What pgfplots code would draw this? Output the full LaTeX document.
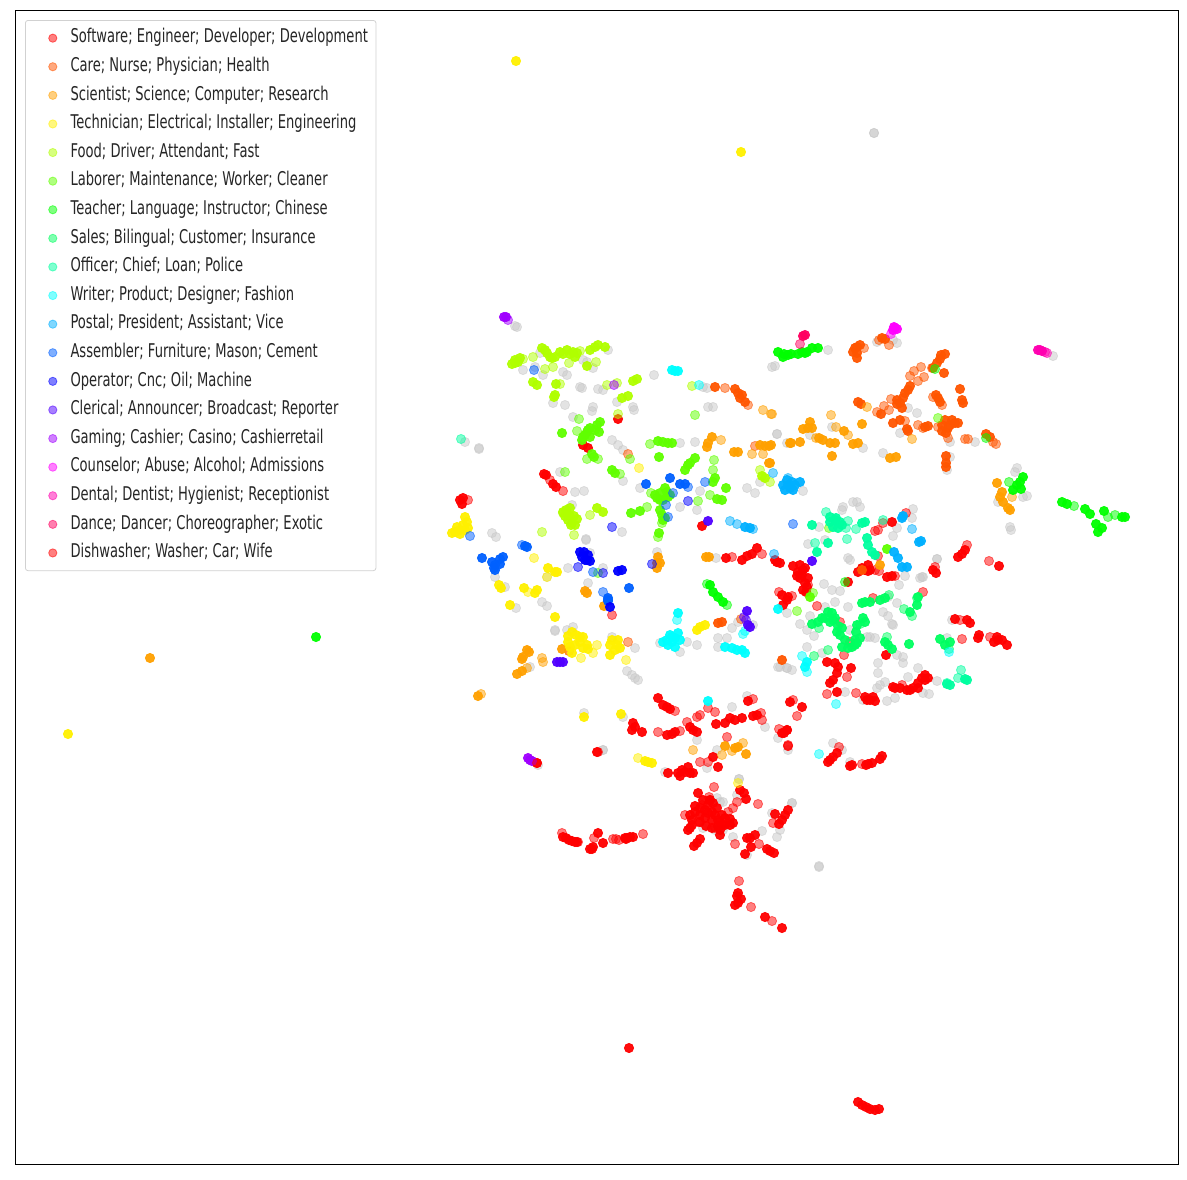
\documentclass[border=0pt]{standalone}
\usepackage{pgfplots}
\pgfplotsset{compat=1.18}
\usepackage{fontspec}
\newfontfamily\legfont[FakeStretch=0.692]{DejaVu Sans}
\definecolor{c00}{HTML}{FF0000}
\definecolor{c01}{HTML}{FF5500}
\definecolor{c02}{HTML}{FFA000}
\definecolor{c03}{HTML}{FFF000}
\definecolor{c04}{HTML}{B0FF00}
\definecolor{c05}{HTML}{60FF00}
\definecolor{c06}{HTML}{00FF00}
\definecolor{c07}{HTML}{00FF60}
\definecolor{c08}{HTML}{00FFA0}
\definecolor{c09}{HTML}{00FFFF}
\definecolor{c10}{HTML}{00B0FF}
\definecolor{c11}{HTML}{0060FF}
\definecolor{c12}{HTML}{0000FF}
\definecolor{c13}{HTML}{5000FF}
\definecolor{c14}{HTML}{A000FF}
\definecolor{c15}{HTML}{FF00FF}
\definecolor{c16}{HTML}{FF00B0}
\definecolor{c17}{HTML}{FF0060}
\definecolor{gr}{HTML}{C8C8C8}
\pgfplotsset{
  solid dot/.style={only marks,mark=*,mark size=3.45pt,forget plot,
    mark options={draw=#1,fill=#1,line width=0.6pt,draw opacity=0.95,fill opacity=0.95}},
  light dot/.style={only marks,mark=*,mark size=3.45pt,
    mark options={draw=#1,fill=#1,line width=0.6pt,draw opacity=0.55,fill opacity=0.5}},
}
\begin{document}
\begin{tikzpicture}
\path[use as bounding box] (0pt,0pt) rectangle (890.25pt,884.25pt);
\begin{axis}[
  at={(11.25pt,11.25pt)},anchor=south west,
  scale only axis,width=872.25pt,height=865.5pt,
  xmin=15,xmax=1178,ymin=10,ymax=1164,y dir=reverse,
  xtick=\empty,ytick=\empty,
  axis line style={black,line width=0.6pt},
  legend cell align=left,
  legend image code/.code={\path (0pt,0pt) (27.25pt,0pt);\draw[#1,mark size=3.1pt] plot coordinates {(14.25pt,0pt)};},
  legend style={at={(axis cs:25,20)},anchor=north west,draw=black!18,rounded corners=2pt,
    line width=0.6pt,font=\legfont\fontsize{14.2}{16}\selectfont,text=black!85,
    inner xsep=6pt,inner ysep=6.3pt,row sep=7.45pt,
    nodes={inner sep=0pt,text height=10.5pt,text depth=3.5pt}},
]
% noise topic
\addplot[light dot=gr,forget plot] coordinates {
(517,327)(515,326)(608,350)(540,353)(523,370)(535,367)(543,375)(563,372)(567,375)(583,360)(587,362)(593,368)(580,387)(582,388)(598,389)(603,390)(654,375)(553,403)(565,405)(593,407)(592,411)(633,407)(634,410)(617,402)(573,417)(708,407)(713,407)(703,387)(707,388)
(465,442)(479,448)(479,449)(612,440)(618,445)(623,450)(680,443)(695,442)(777,434)(623,481)(560,472)(575,492)(584,491)(640,488)(680,507)(697,510)(700,491)(747,488)(755,493)(760,482)(572,505)(492,533)(496,537)(586,539)(586,540)(622,532)(590,553)(568,568)(603,568)(588,583)(547,577)(495,577)(505,587)(716,558)(657,552)
(542,602)(547,606)(516,608)(555,630)(555,631)(573,627)(567,630)(612,637)(635,648)(627,671)(632,675)(635,678)(638,680)(530,667)(687,642)(697,645)(680,652)(660,643)(718,638)(727,638)(718,647)(732,628)(738,622)(753,625)(778,667)(787,668)(732,707)(747,696)(584,713)(623,717)(603,750)(765,727)(697,740)(717,750)(707,768)(665,772)(538,765)(739,779)(723,802)
(848,558)(850,560)(824,584)(832,590)(840,591)(835,602)(848,607)(825,607)(810,616)(800,624)(807,630)(814,636)(883,612)(888,616)(892,624)(893,625)(870,637)(875,638)(867,637)(850,630)(897,603)(899,585)(888,597)(920,578)(923,577)(937,559)(807,647)(822,653)(878,663)(903,663)(903,657)(897,655)(878,673)(885,682)(880,685)(877,688)(908,677)(918,668)(937,681)(923,693)(929,694)(887,701)(895,698)(863,700)(845,692)(780,667)(787,668)(792,670)(787,613)(833,743)(842,750)(850,762)(792,803)(778,738)(788,750)(947,638)(952,620)
(828,350)(775,366)(772,367)(877,342)(897,343)(893,340)(950,457)(947,470)(908,408)(917,413)(900,433)(950,442)(975,442)(883,453)(863,448)(777,434)(832,427)(810,435)(787,443)(1053,356)(1017,468)(1015,472)(1027,496)(1023,497)(998,502)(1011,530)(1010,527)(857,502)(853,502)(843,507)(842,510)(860,507)(913,509)(897,528)(893,536)(912,518)(819,527)(808,544)(825,540)(803,491)(937,559)(922,577)(905,576)
(819,867)(819,866)(792,803)(777,837)(762,831)(733,837)(723,830)(717,798)(720,802)(703,828)(739,779)(737,795)(780,830)(772,813)(747,855)(874,133)(874,133)(603,750)(710,800)(730,825)(715,830)
};
% Software
\addplot[solid dot=c00] coordinates {
(563,837)(566,838)(569,840)(572,841)(575,842)(577,842)(598,833)(603,843)(592,849)(590,849)(593,847)(625,838)(627,838)(630,837)(633,837)(626,839)
(698,793)(695,806)(700,808)(705,810)(708,813)(713,803)(717,808)(722,815)(725,818)(730,819)(700,815)(692,820)(705,818)(712,820)(718,820)(690,828)(692,825)(688,830)(694,846)(697,843)(700,839)(720,830)(720,835)(718,826)(722,825)
(703,800)(708,805)(712,812)(695,812)(700,822)(706,826)(715,815)(725,825)(730,825)(733,823)(690,815)(712,828)(720,822)(710,800)
(740,790)(744,793)(746,799)(775,814)(788,810)(785,815)(782,820)(779,824)(750,838)(755,835)(747,838)(751,847)(745,854)(767,849)(770,851)(774,853)
(738,893)(737,896)(741,899)(738,903)(735,905)(765,917)(782,928)(597,752)(668,773)(678,773)(682,770)(685,772)(688,767)(690,773)(693,773)(680,776)(713,757)(718,767)
(828,762)(833,757)(837,753)(830,760)(852,765)(850,766)(868,764)(872,763)(866,765)(880,759)(882,756)
(658,698)(663,705)(667,707)(670,709)(633,723)(632,730)(635,727)(642,732)(667,735)(672,734)(675,732)(690,727)(693,730)(697,732)(716,724)(725,723)(730,718)(735,720)(742,718)(753,716)(757,715)(748,701)(782,733)(787,730)(537,763)
(775,560)(777,562)(793,566)(798,572)(803,570)(805,568)(802,575)(805,583)(807,587)(806,592)(797,576)(865,570)(862,568)(870,570)(868,571)(887,577)(892,576)(933,570)(936,573)(848,582)(782,595)(787,600)(783,605)(788,597)
(800,565)(800,578)(808,578)(803,590)(868,565)(858,572)
(886,655)(827,662)(835,663)(838,667)(851,668)(837,673)(833,680)(830,683)(837,692)(870,700)(875,701)(867,700)(895,688)(893,687)(907,690)(913,688)(918,683)(922,678)(925,675)(928,678)(955,619)(967,620)(970,623)(979,635)(978,638)(997,637)(994,642)(1002,640)(1007,645)(998,640)(790,702)(802,707)(784,733)(787,730)
(925,680)(918,688)(910,690)(900,688)(865,697)(873,697)
(962,554)(965,550)(958,557)(999,566)(892,522)(544,474)(546,475)(556,487)(553,484)(460,500)(462,504)(463,498)(618,419)(583,445)(588,448)(702,526)(726,558)(742,560)(747,556)(752,554)(757,548)(777,562)(780,563)
(629,1048)(858,1102)(862,1105)(866,1107)(870,1109)(875,1110)(879,1109)
};
\addplot[light dot=c00] coordinates {
(562,833)(578,842)(594,838)(613,839)(619,840)(616,839)(643,834)(709,797)(714,787)(737,802)(758,804)(773,823)(735,844)(759,844)(739,881)(751,907)(772,921)(700,762)(708,762)(788,746)(839,747)(862,764)(675,711)(708,708)(715,712)(753,699)(658,732)(680,731)(687,722)(697,717)(700,715)(761,713)(762,720)(788,745)(727,737)(612,615)
(808,585)(875,570)(879,571)(878,556)(895,576)(935,567)(923,592)(873,598)(779,592)(792,596)(817,606)(840,622)(850,642)(844,655)(847,677)(827,694)(856,693)(902,685)(960,620)(962,639)(990,637)(793,700)(797,716)(779,729)(788,746)(967,545)(989,561)(906,513)(883,523)(878,530)(875,531)(550,480)(563,491)(468,500)(732,557)(762,554)(569,651)(710,800)(702,805)(685,815)(728,812)(733,808)(698,822)(715,828)
};
\addlegendentry{Software; Engineer; Developer; Development}
% Care
\addplot[solid dot=c01] coordinates {
(857,347)(860,345)(855,348)(857,358)(882,338)(885,339)(945,354)(940,359)(937,363)(933,368)(944,373)(910,386)(905,393)(903,398)(900,403)(897,404)(960,389)(963,403)(962,400)(938,398)(940,402)(936,395)(858,402)(861,404)(881,414)(893,423)(900,420)(907,429)(908,431)(928,426)(925,427)(942,431)(948,428)(952,420)(955,423)(958,423)(946,433)(986,434)(990,437)(946,456)(946,463)(946,467)(715,387)(735,389)(738,393)(740,398)(745,402)(742,395)(718,623)(722,622)(782,660)(862,570)
(897,400)(902,408)(908,390)(942,425)(945,420)(950,425)(941,355)(853,352)(857,353)
};
\addplot[light dot=c01] coordinates {
(864,348)(889,345)(879,340)(932,368)(921,367)(914,371)(910,376)(918,381)(924,377)(933,397)(942,405)(891,399)(884,406)(889,410)(877,412)(905,421)(918,425)(923,428)(938,427)(948,438)(965,439)(968,439)(993,442)(996,444)(725,388)(628,454)(755,446)(741,619)(628,642)(748,405)
};
\addlegendentry{Care; Nurse; Physician; Health}
% Scientist
\addplot[solid dot=c02] coordinates {
(810,422)(808,428)(803,429)(812,428)(844,431)(862,424)(800,442)(791,443)(819,438)(823,440)(830,443)(835,443)(853,444)(858,443)(832,456)(890,458)(896,457)(771,445)(770,463)(997,483)(1000,497)(1002,492)(1003,502)(1008,508)(1010,510)(708,443)(712,437)(707,447)(738,452)(734,452)(760,445)(765,446)(769,446)(769,463)(790,443)(658,557)(657,563)(660,563)(657,568)(706,557)(709,557)(585,591)(587,593)(604,606)(562,649)(527,650)(529,652)(522,659)(523,657)(522,671)(517,674)(478,696)(725,746)(735,748)(738,747)(746,754)(880,565)(150,658)
};
\addplot[light dot=c02] coordinates {
(831,415)(836,427)(848,435)(816,438)(912,439)(867,407)(772,414)(1012,497)(721,440)(752,454)(763,454)(763,410)(771,414)(542,658)(543,662)(527,668)(481,694)(732,751)(743,743)(693,750)(722,755)(569,651)
};
\addlegendentry{Scientist; Science; Computer; Research}
% Technician
\addplot[solid dot=c03] coordinates {
(516,61)(741,152)(68,734)(465,517)(467,522)(460,530)(455,532)(465,530)(468,528)(463,525)(460,534)(452,533)(457,527)(499,585)(501,588)(524,588)(535,593)(537,590)(510,605)(555,617)(548,568)(555,572)(557,572)(572,632)(568,642)(570,647)(580,637)(583,637)(583,648)(588,649)(572,653)(576,635)(580,642)(575,645)(568,636)(587,645)(610,645)(618,640)(617,645)(620,648)(610,655)(612,640)(615,650)(584,717)(621,714)(645,761)(648,762)(652,763)(697,630)(700,627)(705,625)
};
\addplot[light dot=c03] coordinates {
(534,558)(528,592)(547,577)(581,658)(593,653)(597,645)(626,660)(638,758)(738,783)(639,468)
};
\addlegendentry{Technician; Electrical; Installer; Engineering}
% Food
\addplot[solid dot=c04] coordinates {
(515,363)(518,362)(512,364)(515,360)(520,358)(542,348)(547,353)(552,358)(555,357)(545,350)(550,357)(560,352)(567,350)(573,352)(577,353)(563,354)(570,354)(575,357)(590,350)(598,345)(605,347)(595,347)(587,366)(533,382)(537,385)(556,384)(554,397)(555,395)(633,381)(637,379)(622,398)(628,396)(762,476)(765,478)(567,513)(568,520)(572,523)(577,519)(570,508)(565,516)(570,516)(574,516)(571,525)(566,510)(575,525)(563,512)(597,508)(603,512)
};
\addplot[light dot=c04] coordinates {
(523,359)(533,357)(580,351)(569,363)(596,362)(545,369)(553,367)(560,384)(607,385)(617,383)(692,386)(618,414)(760,470)(770,482)(542,532)(574,535)(563,513)(590,515)
};
\addlegendentry{Food; Driver; Attendant; Fast}
% Laborer
\addplot[solid dot=c05] coordinates {
(562,433)(597,425)(599,432)(587,432)(583,437)(582,440)(588,430)(585,435)(590,428)(595,430)(600,422)(590,437)(592,454)(594,457)(658,441)(663,442)(672,443)(668,443)(659,457)(612,470)(615,473)(685,470)(690,463)(695,458)(688,465)(715,478)(713,482)(726,488)(717,499)(722,500)(660,493)(667,492)(657,498)(663,500)(655,495)(660,500)(668,497)(665,488)(670,495)(631,513)(640,511)(662,515)(660,510)(665,518)(663,520)(659,533)(810,597)(887,549)
};
\addplot[light dot=c05] coordinates {
(579,419)(577,431)(587,459)(598,459)(565,472)(650,444)(620,474)(630,459)(695,415)(714,460)(713,470)(710,495)(698,501)(651,493)(647,507)(662,523)(658,537)(598,573)(829,528)(813,593)(797,611)(938,418)
};
\addlegendentry{Laborer; Maintenance; Worker; Cleaner}
% Teacher
\addplot[solid dot=c06] coordinates {
(778,352)(783,357)(788,355)(784,354)(791,354)(798,354)(802,352)(805,353)(807,352)(812,348)(818,348)(1023,477)(1020,482)(1017,485)(1013,490)(1021,489)(1062,502)(1067,504)(1085,509)(1090,514)(1104,511)(1122,517)(1125,517)(1096,524)(1102,528)(1098,532)(710,585)(713,592)(718,597)(723,602)(316,637)
};
\addplot[light dot=c06] coordinates {
(935,369)(1009,482)(1074,506)(1108,517)(1115,515)(707,584)(727,605)(986,438)(845,582)
};
\addlegendentry{Teacher; Language; Instructor; Chinese}
% Sales
\addplot[solid dot=c07] coordinates {
(865,602)(862,603)(870,602)(880,600)(885,598)(917,605)(910,612)(812,624)(818,622)(825,618)(832,613)(835,618)(830,622)(837,632)(842,628)(822,618)(828,612)(838,626)(833,620)(840,635)(845,640)(855,640)(860,638)(857,625)(855,645)(848,648)(863,618)(865,622)(856,632)(857,643)(852,647)(842,647)(885,642)(888,645)(892,649)(909,644)(940,639)(945,645)(950,642)(918,597)
};
\addplot[light dot=c07] coordinates {
(889,595)(917,598)(904,609)(912,616)(819,628)(860,624)(887,637)(949,649)(828,650)(814,656)
};
\addlegendentry{Sales; Bilingual; Customer; Insurance}
% Officer
\addplot[solid dot=c08] coordinates {
(830,517)(835,520)(840,522)(833,527)(836,518)(842,525)(830,522)(838,528)(812,525)(865,522)(862,523)(828,543)(817,552)(867,538)(868,545)(872,552)(875,555)(950,685)(947,684)(965,679)(967,680)
};
\addplot[light dot=c08] coordinates {
(826,512)(848,521)(846,528)(856,529)(883,520)(815,543)(847,539)(461,439)(947,683)(961,670)(958,678)
};
\addlegendentry{Officer; Chief; Loan; Police}
% Writer
\addplot[solid dot=c09] coordinates {
(675,371)(672,370)(678,371)(678,613)(663,642)(670,635)(678,633)(667,640)(672,642)(675,647)(675,638)(668,645)(672,637)(680,640)(725,647)(732,648)(737,650)(742,650)(745,653)(778,609)(708,701)(807,662)(805,667)
};
\addplot[light dot=c09] coordinates {
(699,385)(677,620)(745,631)(743,634)(802,656)(807,672)(836,704)(819,754)(949,652)
};
\addlegendentry{Writer; Product; Designer; Fashion}
% Postal
\addplot[solid dot=c10] coordinates {
(792,482)(793,490)(800,482)(783,485)(790,488)(788,485)(795,485)(785,490)(787,480)(902,518)(903,516)(921,541)(919,542)(894,552)(898,558)(902,567)(907,567)(745,527)(750,528)
};
\addplot[light dot=c10] coordinates {
(788,478)(773,473)(912,529)(730,521)(737,524)(753,529)(774,554)
};
\addlegendentry{Postal; President; Assistant; Vice}
% Assembler
\addplot[solid dot=c11] coordinates {
(482,558)(492,562)(503,557)(500,559)(494,568)(495,570)(500,564)(495,565)(527,547)(525,546)(646,484)(670,478)(680,484)(685,484)(629,588)(608,598)(608,601)(608,600)
};
\addplot[light dot=c11] coordinates {
(522,545)(470,536)(534,370)(673,493)(688,487)(705,482)(666,505)(668,517)(593,572)(603,592)(793,524)
};
\addlegendentry{Assembler; Furniture; Mason; Cement}
% Operator
\addplot[solid dot=c12] coordinates {
(580,552)(582,557)(587,560)(590,561)(585,560)(588,555)(584,552)(618,571)(622,570)(610,607)
};
\addplot[light dot=c12] coordinates {
(578,567)(603,573)(688,501)(652,564)(612,527)
};
\addlegendentry{Operator; Cnc; Oil; Machine}
% Clerical
\addplot[solid dot=c13] coordinates {
(708,521)(560,662)(563,662)(557,662)(747,611)(750,627)(748,625)(812,561)
};
\addplot[light dot=c13] coordinates {
(746,620)(744,617)
};
\addlegendentry{Clerical; Announcer; Broadcast; Reporter}
% Gaming
\addplot[solid dot=c14] coordinates {
(504,317)(506,317)(530,760)(528,758)(532,761)
};
\addplot[light dot=c14] coordinates {
(508,320)(614,385)
};
\addlegendentry{Gaming; Cashier; Casino; Cashierretail}
% Counselor
\addplot[solid dot=c15] coordinates {
(895,328)(893,330)(897,329)(894,327)
};
\addplot[light dot=c15] coordinates {
(891,334)
};
\addlegendentry{Counselor; Abuse; Alcohol; Admissions}
% Dental
\addplot[solid dot=c16] coordinates {
(1038,350)(1040,350)(1042,351)
};
\addplot[light dot=c16] coordinates {
(1045,352)(1047,353)
};
\addlegendentry{Dental; Dentist; Hygienist; Receptionist}
% Dance
\addplot[solid dot=c17] coordinates {
(805,335)(803,336)
};
\addplot[light dot=c17] coordinates {
(800,344)
};
\addlegendentry{Dance; Dancer; Choreographer; Exotic}
% Dishwasher
\addplot[light dot=c00] coordinates {
(537,763)(598,752)
};
\addlegendentry{Dishwasher; Washer; Car; Wife}
\end{axis}
\end{tikzpicture}
\end{document}
